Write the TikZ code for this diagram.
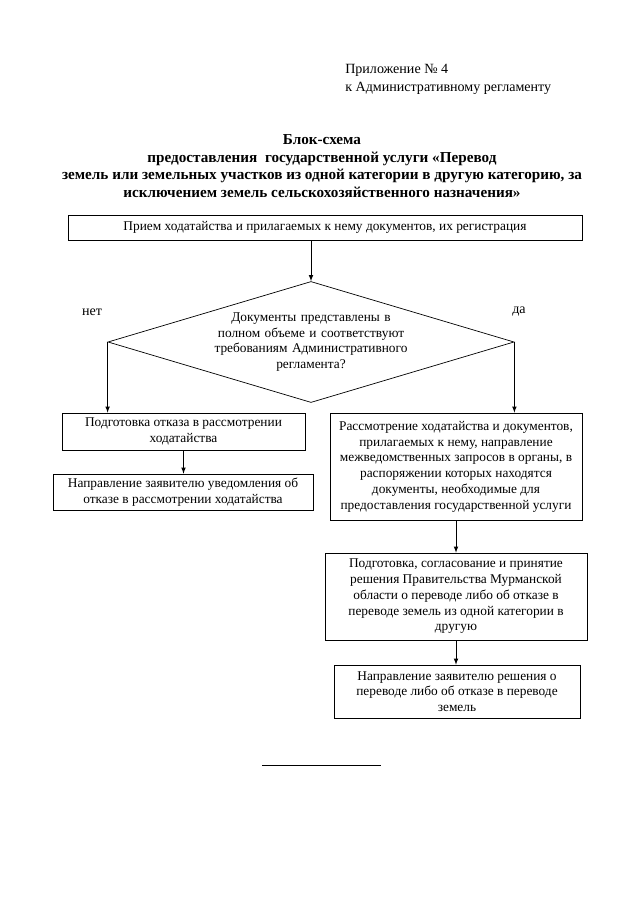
\documentclass[tikz,border=0pt]{standalone}
\usepackage{fontspec}
\setmainfont{Liberation Serif}
\usetikzlibrary{shapes.geometric, calc}
\tikzset{
	myblock/.style={rectangle, draw=black, line width=0.5pt, inner sep=0.05cm,
				text centered, align=center,
				font=\fontsize{9.5}{11.2}\selectfont
				},
	mydecision/.style={diamond, aspect=3.36, draw=black, line width=0.5pt, inner sep=0mm,
				minimum width=10.15cm, minimum height=3.025cm,
				text width=5.2cm, align=center,
				font=\fontsize{9.5}{11.2}\selectfont
				},
	myarrow/.style={->, black, >=latex, line width=0.5pt
				},
	mylabel/.style={inner sep=0mm, font=\fontsize{10}{12}\selectfont
				},
	mytitle/.style={inner sep=0mm, align=center, font=\bfseries\fontsize{10.8}{12.4}\selectfont
				}
	}

\begin{document}
\begin{tikzpicture}[x=0.025cm, y=-0.025cm]

				\useasboundingbox (0,0) rectangle (640,905);

				% header
				\node[mylabel, anchor=west] (annex) at (345,70) {Приложение № 4};
				\node[mylabel, anchor=west] (annexreg) at (345,88) {к Административному регламенту};

				\node[mytitle] (title) at (322,166)
				{Блок-схема\\
				предоставления\ \ государственной услуги «Перевод\\
				земель или земельных участков из одной категории в другую категорию, за\\
				исключением земель сельскохозяйственного назначения»};

				% blocks
				\node[myblock, minimum width=12.85cm, minimum height=0.625cm] (accept) at (325,227.5)
				{Прием ходатайства и прилагаемых к нему документов, их регистрация};

				\node[mydecision] (check) at (311,342)
				{Документы представлены в\\ полном объеме и соответствуют\\ требованиям Административного\\ регламента?};

				\node[mylabel] (no) at (92,312) {нет};
				\node[mylabel] (yes) at (519,312) {да};

				\node[myblock, minimum width=6.075cm, minimum height=0.925cm] (refuse) at (183.5,431.5)
				{Подготовка отказа в рассмотрении\\ ходатайства};

				\node[myblock, minimum width=6.5cm, minimum height=0.9cm] (notify) at (183,492)
				{Направление заявителю уведомления об\\ отказе в рассмотрении ходатайства};

				\node[myblock, minimum width=6.3cm, minimum height=2.675cm] (review) at (456,466.5)
				{Рассмотрение ходатайства и документов,\\ прилагаемых к нему, направление\\
				межведомственных запросов в органы, в\\ распоряжении которых находятся\\
				документы, необходимые для\\ предоставления государственной услуги};

				\node[myblock, minimum width=6.55cm, minimum height=2.175cm] (decide) at (456,596.5)
				{Подготовка, согласование и принятие\\ решения Правительства Мурманской\\
				области о переводе либо об отказе в\\ переводе земель из одной категории в\\ другую};

				\node[myblock, minimum width=6.15cm, minimum height=1.325cm] (send) at (457,691.5)
				{Направление заявителю решения о\\ переводе либо об отказе в переводе\\ земель};

				% connectors
				\draw[myarrow] (check.north |- accept.south) -- (check.north);
				\draw[myarrow] (check.west) -- (check.west |- refuse.north);
				\draw[myarrow] (check.east) -- (check.east |- review.north);
				\draw[myarrow] (refuse.south) -- (refuse.south |- notify.north);
				\draw[myarrow] (review.south) -- (review.south |- decide.north);
				\draw[myarrow] (decide.south) -- (decide.south |- send.north);

				% footnote rule
				\draw[line width=0.6pt] (262,765) -- (381,765);

\end{tikzpicture}
\end{document}
